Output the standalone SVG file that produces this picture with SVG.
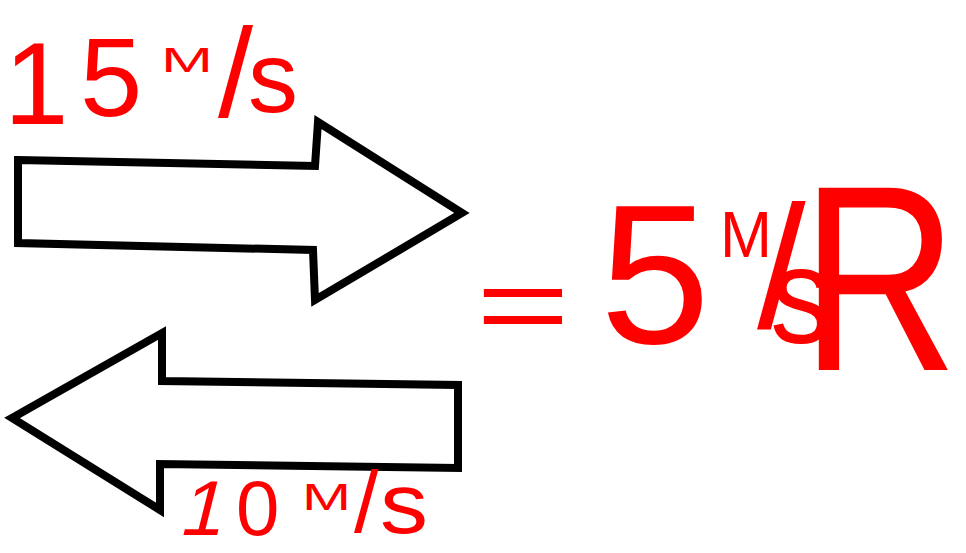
<svg xmlns="http://www.w3.org/2000/svg" width="966" height="553" viewBox="0 0 966 553">
<style>
.arrow{fill:#fff;stroke:#000;stroke-width:8;stroke-linejoin:miter}
.red{fill:#ff0000;font-family:"Liberation Sans",Arial,sans-serif}
</style>
<rect width="966" height="553" fill="#fff"/>
<g id="arrow-right">
<polygon class="arrow" points="18,160 315,166 318,122 462,213 315,300 313,250 18,243"/>
</g>
<g id="arrow-left">
<polygon class="arrow" points="12,418 162,333 162,381 458,385 458,468 160,464 160,510"/>
</g>
<g id="label-15">
<text class="red"><tspan x="4" y="124" font-size="116">1</tspan><tspan x="80" y="116" font-size="112">5</tspan><tspan x="161" y="72" font-size="35" textLength="52" lengthAdjust="spacingAndGlyphs">M</tspan><tspan x="218" y="117" font-size="126">/</tspan><tspan x="248" y="112" font-size="100" textLength="50" lengthAdjust="spacingAndGlyphs">s</tspan></text>
</g>
<g id="label-10">
<text class="red" transform="skewX(-14) translate(128,0)"><tspan x="183" y="535" font-size="78">1</tspan></text>
<text class="red"><tspan x="236" y="535" font-size="78">0</tspan><tspan x="302" y="510" font-size="37" textLength="49" lengthAdjust="spacingAndGlyphs">M</tspan><tspan x="354" y="532" font-size="88">/</tspan><tspan x="380" y="533" font-size="86" textLength="48" lengthAdjust="spacingAndGlyphs">s</tspan></text>
</g>
<g id="label-result">
<text class="red"><tspan x="476" y="342" font-size="110" textLength="94" lengthAdjust="spacingAndGlyphs">=</tspan><tspan x="600" y="343" font-size="198">5</tspan><tspan x="720" y="257" font-size="65" textLength="52" lengthAdjust="spacingAndGlyphs">M</tspan><tspan x="757" y="327" font-size="175">/</tspan><tspan x="770" y="343" font-size="137" textLength="62" lengthAdjust="spacingAndGlyphs">s</tspan></text>
<text class="red" font-size="265" transform="translate(801,370) scale(0.82,1)">R</text>
</g>
</svg>
